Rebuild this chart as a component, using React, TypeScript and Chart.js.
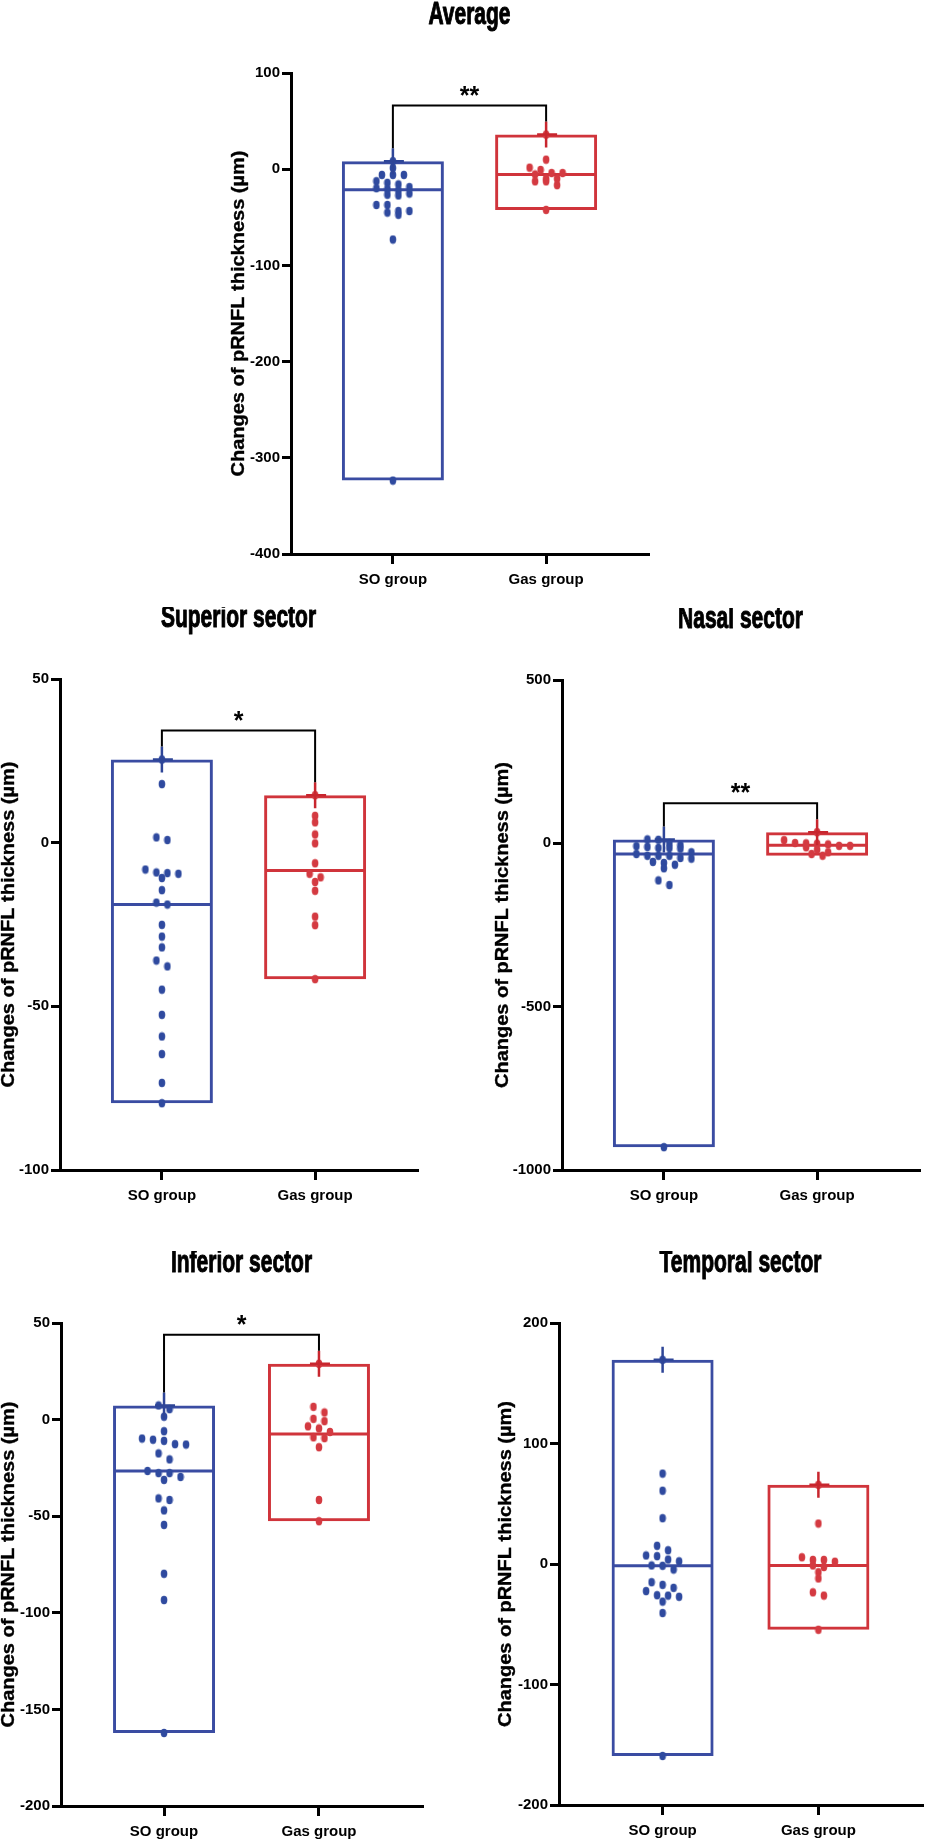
import React, { useEffect, useRef } from 'react';
import { Chart, registerables } from 'chart.js';

Chart.register(...registerables);

// ---------------- data ----------------
const groups = ['SO group', 'Gas group'];
const yAxisTitle = 'Changes of pRNFL thickness (µm)';
const panelTitles = ['Average', 'Superior sector', 'Nasal sector', 'Inferior sector', 'Temporal sector'];

const averageSO = [8.3, 1.2, -5.9, -5.9, -5.9, -12.5, -14.2, -15.8, -18.6, -19.8, -20.6, -22.1, -25.3, -26.5, -27.3, -37.2, -37.2, -43.5, -43.5, -45.1, -47.4, -73.1, -323.7];
const averageGas = [36, 9.9, 1.6, -0.8, -4, -4, -5.5, -9.9, -9.9, -12.6, -12.6, -16.6, -42.3];
const averageMedian = [-21.3, -5.5];
const averageTicks = [100, 0, -100, -200, -300, -400];
const averageSig = '**';

const superiorSO = [25.4, 17.9, 1.6, 0.8, -8.2, -9.1, -9.3, -9.5, -10.8, -14.5, -18.3, -18.9, -25.1, -28.7, -32, -36, -37.8, -44.9, -52.6, -59.2, -64.6, -73.4, -79.6];
const superiorGas = [14.5, 8.2, 6.2, 2.5, -0.2, -6.3, -9.5, -10.6, -12, -14.7, -22.6, -25.2, -41.7];
const superiorMedian = [-18.9, -8.5];
const superiorTicks = [50, 0, -50, -100];
const superiorSig = '*';

const nasalSO = [12, 10.9, 0, -5.5, -8.7, -10.9, -14.2, -14.2, -16.4, -27.3, -32.8, -38.2, -38.2, -38.2, -44.8, -46.9, -56.8, -60, -65.5, -76.4, -113.5, -127.7, -930];
const nasalGas = [34, 9.8, 1, 0, -1, -3.3, -7.6, -7.6, -12, -19.6, -27.3, -32.8, -38];
const nasalMedian = [-32.8, -5.5];
const nasalTicks = [500, 0, -500, -1000];
const nasalSig = '**';

const inferiorSO = [7.3, 5.4, 1.5, -6, -9.8, -10.4, -11, -12.7, -12.9, -17.5, -20.6, -26.6, -27.7, -27.7, -29.7, -31.2, -40.8, -41.6, -47, -54.5, -79.8, -93.4, -162.2];
const inferiorGas = [28.9, 6.6, 3.7, 0.4, -0.8, -3.5, -4.6, -6.4, -9.2, -9.6, -14.3, -41.6, -52.6];
const inferiorMedian = [-26.6, -7.5];
const inferiorTicks = [50, 0, -50, -100, -150, -200];
const inferiorSig = '*';

const temporalSO = [169.4, 75, 60.8, 38, 15.1, 11.4, 7.1, 6.5, 3.7, 2.2, -1.2, -1.5, -4.6, -15.1, -17.3, -19.8, -22.5, -25.9, -26.2, -27.2, -31.2, -40.7, -159.3];
const temporalGas = [65.7, 33.6, 5.6, 3.4, 3.4, 1.9, -1.2, -2.5, -6.8, -12, -23.5, -26.2, -54.6];
const temporalMedian = [-1.5, -1.2];
const temporalTicks = [200, 100, 0, -100, -200];
const temporalSig = '';

const panels = [
  { title: panelTitles[0], so: averageSO, gas: averageGas, median: averageMedian, ticks: averageTicks, sig: averageSig },
  { title: panelTitles[1], so: superiorSO, gas: superiorGas, median: superiorMedian, ticks: superiorTicks, sig: superiorSig },
  { title: panelTitles[2], so: nasalSO, gas: nasalGas, median: nasalMedian, ticks: nasalTicks, sig: nasalSig },
  { title: panelTitles[3], so: inferiorSO, gas: inferiorGas, median: inferiorMedian, ticks: inferiorTicks, sig: inferiorSig },
  { title: panelTitles[4], so: temporalSO, gas: temporalGas, median: temporalMedian, ticks: temporalTicks, sig: temporalSig },
];

// ---------------- layout / style ----------------
const layouts = [
  { left: 291, top: 73, w: 358, h: 481, titleGap: 58, axisTitleGap: 52 },
  { left: 60, top: 679, w: 358, h: 491, titleGap: 61, axisTitleGap: 51 },
  { left: 562, top: 680, w: 358, h: 490, titleGap: 61, axisTitleGap: 59 },
  { left: 61, top: 1323, w: 362, h: 483, titleGap: 60, axisTitleGap: 52 },
  { left: 559, top: 1323, w: 364, h: 482, titleGap: 60, axisTitleGap: 53 },
];
const Y_W = 75;
const TOP_PAD = 72;
const X_H = 36;
const RIGHT_PAD = 3;
const X_MIN = -0.665;
const X_MAX = 1.665;
const BOX_PX = 102;
const DOT_STEP = 11;
const ROW_TOL = 6.2;

const BOX_COLORS = ['#3a4ca2', '#d0343b'];
const DOT_COLORS = ['#2f4a9f', '#d43a41'];
const CROSS_COLORS = ['#2e4597', '#c8262e'];
const BASE_FONT = '"Liberation Sans", Arial, Helvetica, sans-serif';

const narrowAvailable = (() => {
  try {
    const c = document.createElement('canvas').getContext('2d') as CanvasRenderingContext2D;
    c.font = 'bold 40px monospace';
    const a = c.measureText('SO group -1000').width;
    c.font = 'bold 40px "Liberation Sans Narrow", monospace';
    const b = c.measureText('SO group -1000').width;
    return Math.abs(a - b) > 1;
  } catch (e) {
    return false;
  }
})();

const tickFont = narrowAvailable
  ? { family: '"Liberation Sans Narrow", ' + BASE_FONT, size: 17.5, weight: 'bold' as const }
  : { family: BASE_FONT, size: 15, weight: 'bold' as const };
const xTickPad = narrowAvailable ? 6 : 7;

// elliptical dot marker (the source figure is slightly stretched vertically)
function makeDot(color: string): HTMLCanvasElement {
  const c = document.createElement('canvas');
  c.width = 8;
  c.height = 10;
  const ctx = c.getContext('2d') as CanvasRenderingContext2D;
  ctx.fillStyle = color;
  ctx.beginPath();
  ctx.ellipse(4, 5, 3.3, 4.2, 0, 0, Math.PI * 2);
  ctx.fill();
  return c;
}
const dotImages = DOT_COLORS.map(makeDot);

function applySwarm(chart: any, series: number[][]) {
  const xs = chart.scales.x;
  const ys = chart.scales.y;
  const unit = xs.getPixelForValue(1) - xs.getPixelForValue(0);
  series.forEach((vals, g) => {
    const px = vals.map((v) => ys.getPixelForValue(v));
    const order = vals.map((_, i) => i).sort((a, b) => px[a] - px[b]);
    const xOut: number[] = vals.map(() => g);
    let row: number[] = [];
    let start = -Infinity;
    const flush = () => {
      const n = row.length;
      row.forEach((idx, k) => {
        xOut[idx] = g + ((k - (n - 1) / 2) * DOT_STEP) / unit;
      });
      row = [];
    };
    order.forEach((i) => {
      if (px[i] - start > ROW_TOL) {
        flush();
        start = px[i];
      }
      row.push(i);
    });
    flush();
    chart.data.datasets[1 + g].data = vals.map((v, i) => ({ x: xOut[i], y: v }));
  });
  chart.update('none');
}

function heavyText(ctx: CanvasRenderingContext2D, text: string, x: number, y: number, stroke: number) {
  ctx.fillText(text, x, y);
  if (stroke > 0) {
    ctx.lineWidth = stroke;
    ctx.strokeStyle = ctx.fillStyle as string;
    ctx.lineJoin = 'round';
    ctx.strokeText(text, x, y);
  }
}

function makeDecor(p: any, lay: any) {
  const series = [p.so, p.gas];
  return {
    id: 'decor',
    beforeDatasetsDraw(chart: any) {
      const ctx = chart.ctx;
      const ys = chart.scales.y;
      const meta = chart.getDatasetMeta(0);
      p.median.forEach((m: number, i: number) => {
        const bar = meta.data[i];
        if (!bar) return;
        const { x, width } = bar.getProps(['x', 'width'], true);
        const y = ys.getPixelForValue(m);
        ctx.save();
        ctx.strokeStyle = BOX_COLORS[i];
        ctx.lineWidth = 3;
        ctx.beginPath();
        ctx.moveTo(x - width / 2 + 1, y);
        ctx.lineTo(x + width / 2 - 1, y);
        ctx.stroke();
        ctx.restore();
      });
    },
    afterDatasetsDraw(chart: any) {
      const ctx = chart.ctx;
      const xs = chart.scales.x;
      const ys = chart.scales.y;
      const tops: number[] = [];
      const xsPix: number[] = [];
      series.forEach((vals: number[], i: number) => {
        const x = xs.getPixelForValue(i);
        const y = ys.getPixelForValue(Math.max(...vals));
        ctx.save();
        ctx.strokeStyle = CROSS_COLORS[i];
        ctx.lineWidth = 2.5;
        ctx.beginPath();
        ctx.moveTo(x, y - 13);
        ctx.lineTo(x, y + 13);
        ctx.moveTo(x - 9, y);
        ctx.lineTo(x + 11, y);
        ctx.stroke();
        ctx.restore();
        tops.push(y - 13);
        xsPix.push(x);
      });
      if (p.sig) {
        const by = Math.min(...tops) - 16;
        ctx.save();
        ctx.strokeStyle = '#000';
        ctx.lineWidth = 2;
        ctx.beginPath();
        ctx.moveTo(xsPix[0], tops[0]);
        ctx.lineTo(xsPix[0], by);
        ctx.lineTo(xsPix[1], by);
        ctx.lineTo(xsPix[1], tops[1]);
        ctx.stroke();
        ctx.fillStyle = '#000';
        ctx.font = 'bold 25px ' + BASE_FONT;
        ctx.textAlign = 'center';
        ctx.textBaseline = 'alphabetic';
        ctx.fillText(p.sig, (xsPix[0] + xsPix[1]) / 2, by - 2);
        ctx.restore();
      }
    },
    afterDraw(chart: any) {
      const ctx = chart.ctx;
      const a = chart.chartArea;
      // panel title
      ctx.save();
      ctx.fillStyle = '#000';
      ctx.translate((a.left + a.right) / 2, a.top - lay.titleGap);
      ctx.scale(1, 1.5);
      ctx.font = 'bold 21px ' + BASE_FONT;
      ctx.textAlign = 'center';
      ctx.textBaseline = 'middle';
      heavyText(ctx, p.title, 0, 0, 0.7);
      ctx.restore();
      // y axis title
      ctx.save();
      ctx.fillStyle = '#000';
      ctx.translate(a.left - lay.axisTitleGap, (a.top + a.bottom) / 2);
      ctx.rotate(-Math.PI / 2);
      ctx.scale(1, 0.88);
      ctx.font = 'bold 20px ' + BASE_FONT;
      ctx.textAlign = 'center';
      ctx.textBaseline = 'middle';
      heavyText(ctx, yAxisTitle, 0, 0, 0.4);
      ctx.restore();
    },
  };
}

function buildConfig(p: any, lay: any): any {
  const series = [p.so, p.gas];
  const boxes = series.map((vals: number[], i: number) => ({ x: i, y: [Math.min(...vals), Math.max(...vals)] }));
  const tickVals: number[] = p.ticks;
  return {
    type: 'scatter',
    data: {
      datasets: [
        {
          type: 'bar',
          data: boxes,
          backgroundColor: 'rgba(0,0,0,0)',
          borderColor: BOX_COLORS,
          borderWidth: 3,
          borderSkipped: false,
          barThickness: BOX_PX,
          inflateAmount: 0,
          order: 2,
        },
        {
          type: 'scatter',
          data: p.so.map((v: number) => ({ x: 0, y: v })),
          pointStyle: dotImages[0],
          pointRadius: 4,
          pointBackgroundColor: DOT_COLORS[0],
          pointBorderWidth: 0,
          order: 1,
        },
        {
          type: 'scatter',
          data: p.gas.map((v: number) => ({ x: 1, y: v })),
          pointStyle: dotImages[1],
          pointRadius: 4,
          pointBackgroundColor: DOT_COLORS[1],
          pointBorderWidth: 0,
          order: 1,
        },
      ],
    },
    options: {
      responsive: false,
      maintainAspectRatio: false,
      animation: false,
      devicePixelRatio: 1,
      events: [],
      layout: { padding: { top: TOP_PAD, right: RIGHT_PAD, bottom: 0, left: 0 } },
      plugins: { legend: { display: false }, tooltip: { enabled: false }, title: { display: false } },
      scales: {
        x: {
          type: 'linear',
          min: X_MIN,
          max: X_MAX,
          offset: false,
          afterBuildTicks: (s: any) => {
            s.ticks = groups.map((_, i) => ({ value: i }));
          },
          afterFit: (s: any) => {
            s.height = X_H;
          },
          border: { display: true, width: 3, color: '#000' },
          grid: { display: true, offset: false, drawOnChartArea: false, drawTicks: true, tickLength: 10, tickWidth: 3, tickColor: '#000', lineWidth: 3, color: '#000' },
          ticks: {
            autoSkip: false,
            maxRotation: 0,
            minRotation: 0,
            padding: xTickPad,
            color: '#000',
            font: tickFont,
            callback: (v: any) => groups[Math.round(Number(v))] ?? '',
          },
        },
        y: {
          type: 'linear',
          min: Math.min(...tickVals),
          max: Math.max(...tickVals),
          afterBuildTicks: (s: any) => {
            s.ticks = tickVals.map((v) => ({ value: v }));
          },
          afterFit: (s: any) => {
            s.width = Y_W;
          },
          border: { display: true, width: 3, color: '#000' },
          grid: { display: true, offset: false, drawOnChartArea: false, drawTicks: true, tickLength: 9, tickWidth: 3, tickColor: '#000', lineWidth: 3, color: '#000' },
          ticks: { padding: 2, color: '#000', font: tickFont, callback: (v: any) => String(v) },
        },
      },
    },
    plugins: [makeDecor(p, lay)],
  };
}

function Panel({ p, lay }: { p: any; lay: any }) {
  const ref = useRef<HTMLCanvasElement | null>(null);
  useEffect(() => {
    if (!ref.current) return;
    const chart = new Chart(ref.current, buildConfig(p, lay));
    applySwarm(chart, [p.so, p.gas]);
    return () => chart.destroy();
  }, []);
  const W = Y_W + lay.w + RIGHT_PAD;
  const H = TOP_PAD + lay.h + X_H;
  return (
    <canvas
      ref={ref}
      width={W}
      height={H}
      style={{ position: 'absolute', left: lay.left - Y_W, top: lay.top - TOP_PAD, width: W, height: H }}
    />
  );
}

export default function App() {
  return (
    <div style={{ position: 'absolute', left: 0, top: 0, width: 926, height: 1844, background: '#fff', overflow: 'hidden' }}>
      {panels.map((p, i) => (
        <Panel key={i} p={p} lay={layouts[i]} />
      ))}
    </div>
  );
}
